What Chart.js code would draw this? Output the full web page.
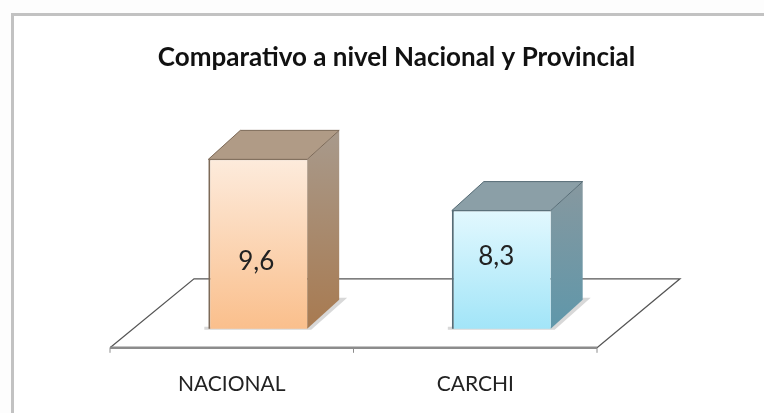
<!DOCTYPE html>
<html>
<head>
<meta charset="utf-8">
<script src="https://cdn.jsdelivr.net/npm/chart.js@4"></script>
<style>
	html, body { margin: 0; padding: 0; background: #fdfdfd; }
	#box { width: 764px; height: 413px; }
	canvas { filter: blur(0.5px); }
</style>
</head>
<body>
<div id="box"><canvas id="myChart"></canvas></div>
<script>
const categories = ["NACIONAL", "CARCHI"];
const values = [9.6, 8.3];
const valueLabels = ["9,6", "8,3"];
const titleText = "Comparativo a nivel Nacional y Provincial";

// front gradient (top, bottom), side gradient (top, bottom), top face, outline
const frontColors = [["#fdebdc", "#fabf8c"], ["#e2f8fe", "#a2e5f8"]];
const sideColors = [["#a89a8c", "#a87a50"], ["#87989f", "#5f97aa"]];
const topColors = ["#b09b86", "#8b9fa7"];
const edgeColors = ["#7d6a58", "#566c76"];

Chart.defaults.font.family = "Lato";

function frontGradient(context) {
	let chart = context.chart;
	let i = context.dataIndex;
	if (!chart.chartArea || i === undefined) {
		return frontColors[0][1];
	}
	let g = chart.ctx.createLinearGradient(0, chart.scales.y.getPixelForValue(values[i]), 0, chart.chartArea.bottom);
	g.addColorStop(0, frontColors[i][0]);
	g.addColorStop(1, frontColors[i][1]);
	return g;
}

function poly(ctx, pts, fill, stroke) {
	ctx.beginPath();
	ctx.moveTo(pts[0][0], pts[0][1]);
	for (let i = 1; i < pts.length; i++) {
		ctx.lineTo(pts[i][0], pts[i][1]);
	}
	ctx.closePath();
	if (fill) {
		ctx.fillStyle = fill;
		ctx.fill();
	}
	if (stroke) {
		ctx.strokeStyle = stroke;
		ctx.lineWidth = 1;
		ctx.stroke();
	}
}

const DEPTH_X = 32;
const DEPTH_Y = 29;

// frame, floor and the 3d faces of the bars
const scene = {
	id: "scene",
	afterLayout(chart) {
		// title sits a bit right of the plot centre
		chart.titleBlock.left += 17;
		chart.titleBlock.right += 17;
	},
	beforeDraw(chart) {
		let ctx = chart.ctx;
		ctx.save();
		ctx.fillStyle = "#ffffff";
		ctx.fillRect(12, 14, 752, 399);
		ctx.fillStyle = "#c2c2c2";
		ctx.fillRect(11, 13, 753, 3);
		ctx.fillRect(11, 13, 3, 400);
		ctx.restore();
	},
	beforeDatasetsDraw(chart) {
		let ctx = chart.ctx;
		let area = chart.chartArea;
		let xs = chart.scales.x;
		let step = xs.getPixelForValue(1) - xs.getPixelForValue(0);
		let fl = area.left - 26;
		let fr = fl + step * 2;
		let fy = area.bottom + 19;
		let by = area.bottom - 50;
		ctx.save();
		// floor
		ctx.strokeStyle = "#555555";
		ctx.lineWidth = 1.2;
		ctx.beginPath();
		ctx.moveTo(fl, fy);
		ctx.lineTo(fl + 84, by);
		ctx.lineTo(fr + 83, by);
		ctx.lineTo(fr, fy);
		ctx.stroke();
		ctx.strokeStyle = "#8c8c8c";
		ctx.lineWidth = 2.5;
		ctx.beginPath();
		ctx.moveTo(fl, fy);
		ctx.lineTo(fr, fy);
		ctx.stroke();
		ctx.lineWidth = 1;
		ctx.beginPath();
		for (let i = 0; i < 3; i++) {
			ctx.moveTo(fl + step * i, fy);
			ctx.lineTo(fl + step * i, fy + 5);
		}
		ctx.stroke();
		// bar depth
		chart.getDatasetMeta(0).data.forEach(function(bar, i) {
			let l = bar.x - bar.width / 2;
			let r = bar.x + bar.width / 2;
			let b = area.bottom;
			poly(ctx, [[l - 4, b - 2], [r, b - 2], [r + DEPTH_X, b - DEPTH_Y - 2], [r + DEPTH_X + 8, b - DEPTH_Y - 2], [r + 4, b + 1], [l - 4, b + 1]], "#d8d8d8");
			let g = ctx.createLinearGradient(0, bar.y - DEPTH_Y, 0, b);
			g.addColorStop(0, sideColors[i][0]);
			g.addColorStop(1, sideColors[i][1]);
			poly(ctx, [[r, bar.y], [r + DEPTH_X, bar.y - DEPTH_Y], [r + DEPTH_X, b - DEPTH_Y], [r, b]], g);
			poly(ctx, [[l, bar.y], [l + DEPTH_X, bar.y - DEPTH_Y], [r + DEPTH_X, bar.y - DEPTH_Y], [r, bar.y]], topColors[i], edgeColors[i]);
		});
		ctx.restore();
	},
	afterDatasetsDraw(chart) {
		let ctx = chart.ctx;
		let shiftX = [-1.5, -5];
		let shiftY = [17.5, -13];
		ctx.save();
		ctx.font = "26px Lato";
		ctx.fillStyle = "#222222";
		ctx.textAlign = "center";
		ctx.textBaseline = "middle";
		chart.getDatasetMeta(0).data.forEach(function(bar, i) {
			let mid = (bar.y + chart.chartArea.bottom) / 2;
			ctx.fillText(valueLabels[i], bar.x + shiftX[i], mid + shiftY[i]);
		});
		ctx.restore();
	}
};

let ctx = document.getElementById("myChart").getContext("2d");
let myChart = new Chart(ctx, {
	type: "bar",
	data: {
		labels: categories,
		datasets: [{
			data: values,
			backgroundColor: frontGradient,
			borderColor: function(c) { return edgeColors[c.dataIndex === undefined ? 0 : c.dataIndex]; },
			borderWidth: { left: 2, right: 0, top: 1, bottom: 0 },
			barPercentage: 0.406,
			categoryPercentage: 1
		}]
	},
	plugins: [scene],
	options: {
		responsive: true,
		maintainAspectRatio: false,
		animation: false,
		layout: { padding: { left: 136, right: 141, top: 0, bottom: -19 } },
		plugins: {
			legend: { display: false },
			tooltip: { enabled: false },
			title: {
				display: true,
				text: titleText,
				color: "#111111",
				font: { size: 26, weight: "bold", family: "Lato" },
				padding: { top: 42, bottom: 31 }
			}
		},
		scales: {
			x: {
				grid: { display: false },
				border: { display: false },
				ticks: {
					color: "#222222",
					font: { size: 21, family: "Lato" },
					labelOffset: -26,
					padding: 35,
					maxRotation: 0
				}
			},
			y: { display: false, min: 5.3, max: 11 }
		}
	}
});
</script>
</body>
</html>
